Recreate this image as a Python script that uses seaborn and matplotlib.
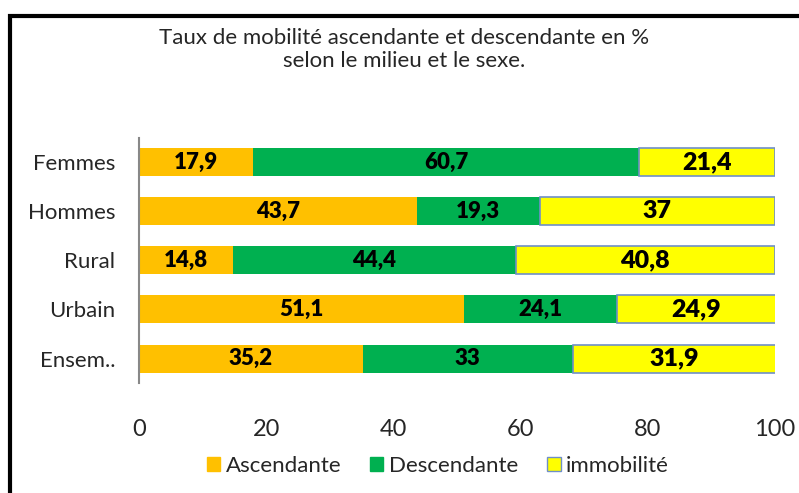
import pandas as pd
import matplotlib.pyplot as plt
import seaborn as sns
from matplotlib.patches import Rectangle, Patch

# Data
categories = ['Femmes', 'Hommes', 'Rural', 'Urbain', 'Ensem..']
ascendante = [17.9, 43.7, 14.8, 51.1, 35.2]
descendante = [60.7, 19.3, 44.4, 24.1, 33]
immobilite = [21.4, 37, 40.8, 24.9, 31.9]

series_names = ['Ascendante', 'Descendante', 'immobilité']
colors = ['#FFC000', '#00B050', '#FFFF00']

df = pd.DataFrame({'cat': categories, 'Ascendante': ascendante,
                   'Descendante': descendante, 'immobilité': immobilite})

sns.set_style('white')
plt.rcParams['font.family'] = ['Lato', 'DejaVu Sans']

fig = plt.figure(figsize=(7.99, 4.93), dpi=100)
ax = fig.add_axes([0.174, 0.223, 0.796, 0.498])

# stacked bars: each series starts where the previous one ended
left = [0.0] * len(categories)
for name, col in zip(series_names, colors):
    edge = '#6F8FC8' if name == 'immobilité' else 'none'
    sns.barplot(data=df, x=name, y='cat', color=col, width=0.57,
                left=left, edgecolor=edge, linewidth=1.2 if edge != 'none' else 0,
                saturation=1, ax=ax)
    cont = ax.containers[-1]
    labels = [f"{v:g}".replace('.', ',') for v in df[name]]
    size = 18 if name == 'immobilité' else 16
    ax.bar_label(cont, labels=labels, label_type='center', fontsize=size,
                 fontweight='heavy', color='black')
    left = [l + v for l, v in zip(left, df[name])]

ax.set_xlim(0, 100)
ax.set_xticks([0, 20, 40, 60, 80, 100])
ax.set_xlabel('')
ax.set_ylabel('')
for s in ['top', 'right', 'bottom']:
    ax.spines[s].set_visible(False)
ax.spines['left'].set_color('#888888')
ax.spines['left'].set_linewidth(1.5)
ax.tick_params(axis='x', labelsize=17, length=0, pad=26)
ax.tick_params(axis='y', labelsize=16, length=0, pad=17)

fig.text(0.506, 0.899, 'Taux de mobilité ascendante et descendante en %\nselon le milieu et le sexe.',
         ha='center', va='center', fontsize=16, linespacing=1.2)

handles = [Patch(facecolor=c, edgecolor='#6F8FC8' if n == 'immobilité' else c, label=n)
           for n, c in zip(series_names, colors)]
fig.legend(handles=handles, loc='center', bbox_to_anchor=(0.548, 0.055), ncol=3,
           frameon=False, fontsize=16, handlelength=0.6, handleheight=0.6,
           handletextpad=0.25, columnspacing=1.3)

# outer frame of the chart area
fig.patches.append(Rectangle((10 / 799, -0.1), 1.2, 1 - 16 / 493 + 0.1,
                             transform=fig.transFigure, fill=False,
                             edgecolor='black', linewidth=3, zorder=10))

fig.savefig('out.png', dpi=100)
